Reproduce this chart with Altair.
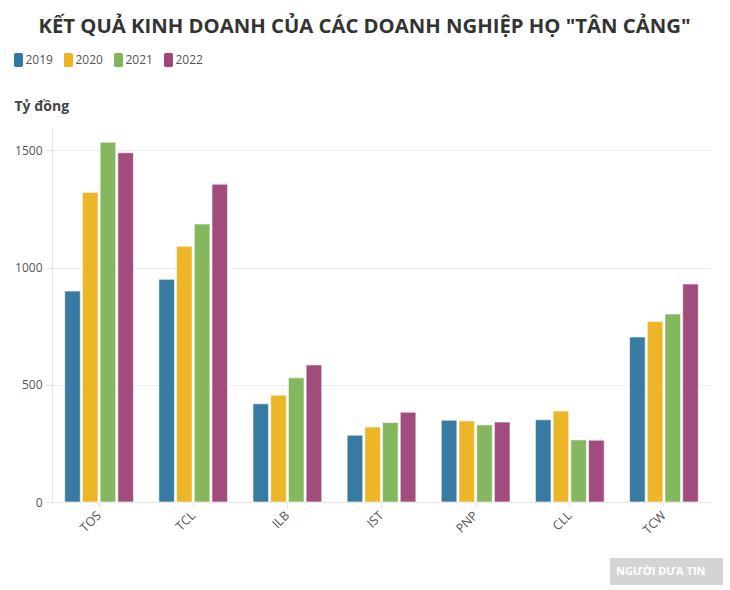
import altair as alt
import pandas as pd

companies = ["TOS", "TCL", "ILB", "IST", "PNP", "CLL", "TCW"]
years = ["2019", "2020", "2021", "2022"]
v2019 = [900, 950, 419, 285, 349, 351, 704]
v2020 = [1321, 1091, 456, 320, 346, 388, 770]
v2021 = [1535, 1186, 530, 339, 329, 265, 802]
v2022 = [1490, 1356, 585, 383, 341, 264, 930]
colors = ["#32779F", "#EDB421", "#82B55A", "#9E4779"]

rows = []
for yr, vals in zip(years, [v2019, v2020, v2021, v2022]):
    for c, v in zip(companies, vals):
        rows.append({"company": c, "year": yr, "value": v})
df = pd.DataFrame(rows)

legend_shape = ("M -0.4 -1 L 0.4 -1 Q 0.64 -1 0.64 -0.76 L 0.64 0.76 "
                "Q 0.64 1 0.4 1 L -0.4 1 Q -0.64 1 -0.64 0.76 "
                "L -0.64 -0.76 Q -0.64 -1 -0.4 -1 Z")

FONT = "Open Sans"

bars = alt.Chart(df).mark_bar(
    stroke="white", strokeWidth=1, strokeOpacity=0.6, opacity=0.97
).encode(
    x=alt.X("company:N", sort=companies,
            scale=alt.Scale(paddingInner=0.27, paddingOuter=0.135),
            axis=alt.Axis(title=None, labelAngle=-45, labelAlign="right",
                          labelBaseline="middle", labelPadding=6,
                          labelFontSize=12.5, labelColor="#555", labelFont=FONT,
                          tickColor="#e6e6e6", tickSize=5,
                          domainColor="#e6e6e6", grid=False)),
    xOffset=alt.XOffset("year:N", sort=years,
                        scale=alt.Scale(paddingInner=0.12)),
    y=alt.Y("value:Q", scale=alt.Scale(domain=[0, 1600], nice=False),
            axis=alt.Axis(values=[0, 500, 1000, 1500], format="d",
                          title="Tỷ đồng",
                          titleAngle=0, titleX=-38, titleY=-17,
                          titleAlign="left", titleBaseline="alphabetic",
                          titleFontSize=14, titleFontWeight="bold",
                          titleColor="#444", titleFont=FONT,
                          labelFontSize=12, labelColor="#555", labelFont=FONT,
                          labelPadding=4, tickColor="#e6e6e6", tickSize=6,
                          gridColor="#ececec", domainColor="#e6e6e6")),
    color=alt.Color("year:N", sort=years,
                    scale=alt.Scale(domain=years, range=colors),
                    legend=alt.Legend(title=None, orient="none",
                                      legendX=-40.5, legendY=-74,
                                      direction="horizontal",
                                      symbolType=legend_shape, symbolSize=196,
                                      symbolOpacity=1, symbolStrokeWidth=0,
                                      labelFontSize=12, labelColor="#555",
                                      labelFont=FONT, labelOffset=0,
                                      columnPadding=8)),
)

wm = pd.DataFrame({"t": ["NGƯỜI ĐƯA TIN"]})
wm_box = alt.Chart(wm).mark_rect(color="#d4d4d4").encode(
    x=alt.value(558), x2=alt.value(671), y=alt.value(431), y2=alt.value(458)
)
wm_text = alt.Chart(wm).mark_text(color="white", fontSize=11, fontWeight="bold",
                                  font=FONT, align="left", baseline="middle").encode(
    x=alt.value(564), y=alt.value(445), text="t:N"
)

chart = alt.layer(bars, wm_box, wm_text).properties(
    width=659, height=375,
    autosize=alt.AutoSizeParams(type="none"),
    padding={"left": 52, "top": 127, "right": 19, "bottom": 88},
    title=alt.TitleParams("KẾT QUẢ KINH DOANH CỦA CÁC DOANH NGHIỆP HỌ \"TÂN CẢNG\"",
                          font=FONT, fontSize=20.3, fontWeight="bold",
                          color="#333", anchor="middle", dx=-17, offset=16),
).configure_view(stroke=None)

chart.save("out.html", embed_options={"renderer": "svg", "actions": False})
